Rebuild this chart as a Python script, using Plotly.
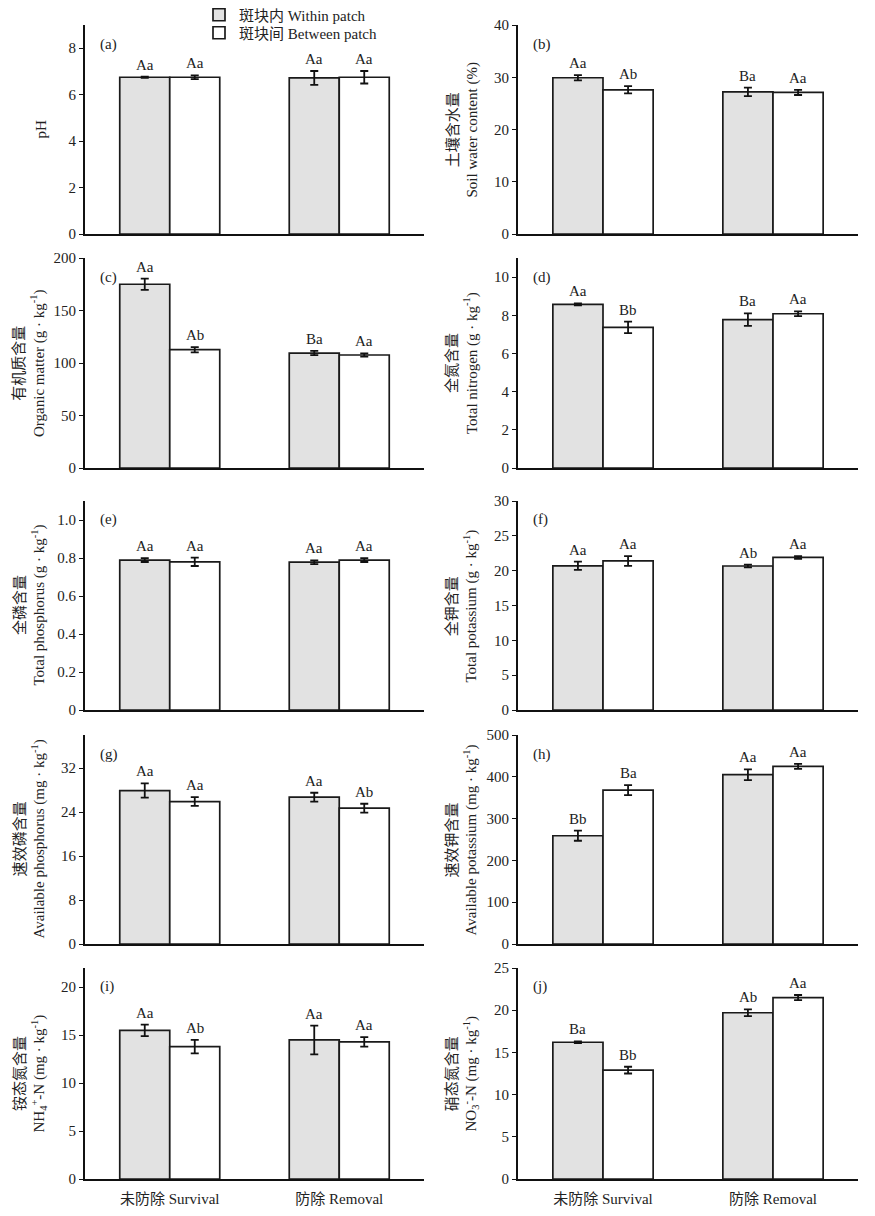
import plotly.graph_objects as go

# page is rendered with an 8px body margin; layout coordinates below are page pixels
PAGE_W, PAGE_H = 875, 1216
OFF = 8
FW, FH = PAGE_W - OFF, PAGE_H - OFF


def fx(px):
    return (px - OFF) / FW


def fy(py):
    return 1 - (py - OFF) / FH


categories = ["未防除 Survival", "防除 Removal"]
series_names = ["斑块内 Within patch", "斑块间 Between patch"]

# (a) pH
ph_within = [6.75, 6.72]
ph_within_err = [0.03, 0.30]
ph_between = [6.75, 6.75]
ph_between_err = [0.08, 0.27]
ph_letters_within = ["Aa", "Aa"]
ph_letters_between = ["Aa", "Aa"]

# (b) Soil water content (%)
swc_within = [29.9, 27.2]
swc_within_err = [0.5, 0.8]
swc_between = [27.6, 27.1]
swc_between_err = [0.7, 0.5]
swc_letters_within = ["Aa", "Ba"]
swc_letters_between = ["Ab", "Aa"]

# (c) Organic matter (g/kg)
om_within = [175.0, 109.5]
om_within_err = [5.3, 2.0]
om_between = [112.7, 107.6]
om_between_err = [2.5, 1.5]
om_letters_within = ["Aa", "Ba"]
om_letters_between = ["Ab", "Aa"]

# (d) Total nitrogen (g/kg)
tn_within = [8.57, 7.77]
tn_within_err = [0.05, 0.33]
tn_between = [7.37, 8.08]
tn_between_err = [0.30, 0.12]
tn_letters_within = ["Aa", "Ba"]
tn_letters_between = ["Bb", "Aa"]

# (e) Total phosphorus (g/kg)
tp_within = [0.789, 0.778]
tp_within_err = [0.010, 0.010]
tp_between = [0.780, 0.789]
tp_between_err = [0.022, 0.010]
tp_letters_within = ["Aa", "Aa"]
tp_letters_between = ["Aa", "Aa"]

# (f) Total potassium (g/kg)
tk_within = [20.7, 20.67]
tk_within_err = [0.6, 0.2]
tk_between = [21.4, 21.9]
tk_between_err = [0.7, 0.2]
tk_letters_within = ["Aa", "Ab"]
tk_letters_between = ["Aa", "Aa"]

# (g) Available phosphorus (mg/kg)
ap_within = [27.9, 26.7]
ap_within_err = [1.3, 0.8]
ap_between = [25.9, 24.7]
ap_between_err = [0.8, 0.8]
ap_letters_within = ["Aa", "Aa"]
ap_letters_between = ["Aa", "Ab"]

# (h) Available potassium (mg/kg)
ak_within = [259, 405]
ak_within_err = [12, 13]
ak_between = [368, 425]
ak_between_err = [12, 6]
ak_letters_within = ["Bb", "Aa"]
ak_letters_between = ["Ba", "Aa"]

# (i) NH4+-N (mg/kg)
nh4_within = [15.5, 14.5]
nh4_within_err = [0.6, 1.5]
nh4_between = [13.8, 14.3]
nh4_between_err = [0.7, 0.5]
nh4_letters_within = ["Aa", "Aa"]
nh4_letters_between = ["Ab", "Aa"]

# (j) NO3--N (mg/kg)
no3_within = [16.2, 19.7]
no3_within_err = [0.1, 0.4]
no3_between = [12.9, 21.5]
no3_between_err = [0.4, 0.3]
no3_letters_within = ["Ba", "Ab"]
no3_letters_between = ["Bb", "Aa"]

panels = [
    dict(tag="(a)", title="pH",
         w=ph_within, we=ph_within_err, b=ph_between, be=ph_between_err,
         lw=ph_letters_within, lb=ph_letters_between,
         rng=[0, 9], tv=[0, 2, 4, 6, 8], tt=["0", "2", "4", "6", "8"]),
    dict(tag="(b)", title="土壤含水量<br>Soil water content (%)",
         w=swc_within, we=swc_within_err, b=swc_between, be=swc_between_err,
         lw=swc_letters_within, lb=swc_letters_between,
         rng=[0, 40], tv=[0, 10, 20, 30, 40], tt=["0", "10", "20", "30", "40"]),
    dict(tag="(c)", title="有机质含量<br>Organic matter (g · kg<sup>-1</sup>)",
         w=om_within, we=om_within_err, b=om_between, be=om_between_err,
         lw=om_letters_within, lb=om_letters_between,
         rng=[0, 200], tv=[0, 50, 100, 150, 200], tt=["0", "50", "100", "150", "200"]),
    dict(tag="(d)", title="全氮含量<br>Total nitrogen (g · kg<sup>-1</sup>)",
         w=tn_within, we=tn_within_err, b=tn_between, be=tn_between_err,
         lw=tn_letters_within, lb=tn_letters_between,
         rng=[0, 11], tv=[0, 2, 4, 6, 8, 10], tt=["0", "2", "4", "6", "8", "10"]),
    dict(tag="(e)", title="全磷含量<br>Total phosphorus (g · kg<sup>-1</sup>)",
         w=tp_within, we=tp_within_err, b=tp_between, be=tp_between_err,
         lw=tp_letters_within, lb=tp_letters_between,
         rng=[0, 1.1], tv=[0, 0.2, 0.4, 0.6, 0.8, 1.0], tt=["0", "0.2", "0.4", "0.6", "0.8", "1.0"]),
    dict(tag="(f)", title="全钾含量<br>Total potassium (g · kg<sup>-1</sup>)",
         w=tk_within, we=tk_within_err, b=tk_between, be=tk_between_err,
         lw=tk_letters_within, lb=tk_letters_between,
         rng=[0, 30], tv=[0, 5, 10, 15, 20, 25, 30], tt=["0", "5", "10", "15", "20", "25", "30"]),
    dict(tag="(g)", title="速效磷含量<br>Available phosphorus (mg · kg<sup>-1</sup>)",
         w=ap_within, we=ap_within_err, b=ap_between, be=ap_between_err,
         lw=ap_letters_within, lb=ap_letters_between,
         rng=[0, 38], tv=[0, 8, 16, 24, 32], tt=["0", "8", "16", "24", "32"]),
    dict(tag="(h)", title="速效钾含量<br>Available potassium (mg · kg<sup>-1</sup>)",
         w=ak_within, we=ak_within_err, b=ak_between, be=ak_between_err,
         lw=ak_letters_within, lb=ak_letters_between,
         rng=[0, 500], tv=[0, 100, 200, 300, 400, 500], tt=["0", "100", "200", "300", "400", "500"]),
    dict(tag="(i)", title="铵态氮含量<br>NH<sub>4</sub><sup>+</sup>-N (mg · kg<sup>-1</sup>)",
         w=nh4_within, we=nh4_within_err, b=nh4_between, be=nh4_between_err,
         lw=nh4_letters_within, lb=nh4_letters_between,
         rng=[0, 22], tv=[0, 5, 10, 15, 20], tt=["0", "5", "10", "15", "20"]),
    dict(tag="(j)", title="硝态氮含量<br>NO<sub>3</sub><sup>-</sup>-N (mg · kg<sup>-1</sup>)",
         w=no3_within, we=no3_within_err, b=no3_between, be=no3_between_err,
         lw=no3_letters_within, lb=no3_letters_between,
         rng=[0, 25], tv=[0, 5, 10, 15, 20, 25], tt=["0", "5", "10", "15", "20", "25"]),
]

# page-pixel layout (left, right) and (top, bottom)
col_px = [(85, 424), (518, 858)]
row_px = [(25, 234), (258, 468), (501, 710), (735, 944), (968, 1179)]
title_x_px = [30, 462]

FONT = "Liberation Serif, 'Times New Roman', 'Noto Sans CJK SC', serif"
TXT = "#222222"
GRAY = "#e2e2e2"
EDGE = "#1a1a1a"

xpos = [0, 1]
bw = 0.295

fig = go.Figure()
annotations = []

for i, p in enumerate(panels):
    r, c = divmod(i, 2)
    n = i + 1
    xa = "x" if n == 1 else f"x{n}"
    ya = "y" if n == 1 else f"y{n}"
    x0, x1 = col_px[c]
    t0, t1 = row_px[r]
    dom_x = [fx(x0), fx(x1)]
    dom_y = [fy(t1), fy(t0)]

    fig.add_trace(go.Bar(
        x=xpos, y=p["w"], width=bw, offset=-bw, xaxis=xa, yaxis=ya,
        name=series_names[0], showlegend=(i == 0), legend="legend",
        marker=dict(color=GRAY, line=dict(color=EDGE, width=1.7)),
        error_y=dict(type="data", array=p["we"], visible=True,
                     color="#111111", thickness=1.8, width=4),
    ))
    fig.add_trace(go.Bar(
        x=xpos, y=p["b"], width=bw, offset=0, xaxis=xa, yaxis=ya,
        name=series_names[1], showlegend=(i == 0), legend="legend2",
        marker=dict(color="#ffffff", line=dict(color=EDGE, width=1.7)),
        error_y=dict(type="data", array=p["be"], visible=True,
                     color="#111111", thickness=1.8, width=4),
    ))

    bottom = (r == 4)
    fig.update_layout(**{
        ("xaxis" if n == 1 else f"xaxis{n}"): dict(
            domain=dom_x, anchor=ya, range=[-0.5, 1.5],
            tickvals=xpos, ticktext=categories, showticklabels=bottom,
            ticks="", showline=True, linecolor="#111111", linewidth=2,
            showgrid=False, zeroline=False, fixedrange=True, automargin=False,
            ticklabelstandoff=5,
            tickfont=dict(family=FONT, size=15, color=TXT),
        ),
        ("yaxis" if n == 1 else f"yaxis{n}"): dict(
            domain=dom_y, anchor=xa, range=p["rng"],
            tickvals=p["tv"], ticktext=p["tt"],
            ticks="outside", ticklen=4, tickwidth=1, tickcolor="#111111",
            showline=True, linecolor="#111111", linewidth=2,
            showgrid=False, zeroline=False, fixedrange=True, automargin=False,
            tickfont=dict(family=FONT, size=15, color=TXT),
        ),
    })

    # panel tag
    annotations.append(dict(
        text=p["tag"], xref="paper", yref="paper",
        x=fx(x0 + 13), y=fy(t0 + 19), xanchor="left", yanchor="middle",
        showarrow=False, font=dict(family=FONT, size=15, color=TXT),
    ))
    # y title
    tx = 40 if i == 0 else title_x_px[c]
    annotations.append(dict(
        text=p["title"], xref="paper", yref="paper",
        x=fx(tx), y=fy((t0 + t1) / 2), xanchor="center", yanchor="middle",
        textangle=-90, showarrow=False,
        font=dict(family=FONT, size=15, color=TXT),
    ))
    # significance letters
    for k in range(2):
        annotations.append(dict(
            text=p["lw"][k], xref=xa, yref=ya,
            x=xpos[k] - bw / 2, y=p["w"][k] + p["we"][k],
            xanchor="center", yanchor="bottom", yshift=2,
            showarrow=False, font=dict(family=FONT, size=15, color=TXT),
        ))
        annotations.append(dict(
            text=p["lb"][k], xref=xa, yref=ya,
            x=xpos[k] + bw / 2, y=p["b"][k] + p["be"][k],
            xanchor="center", yanchor="bottom", yshift=2,
            showarrow=False, font=dict(family=FONT, size=15, color=TXT),
        ))

legend_style = dict(
    xanchor="left", yanchor="middle", orientation="v",
    bgcolor="rgba(0,0,0,0)", font=dict(family=FONT, size=15, color=TXT),
    itemwidth=30,
)

fig.update_layout(
    width=FW, height=FH,
    margin=dict(l=0, r=0, t=0, b=0, autoexpand=False),
    paper_bgcolor="white", plot_bgcolor="white",
    barmode="overlay",
    annotations=annotations,
    legend=dict(x=fx(199), y=fy(15), **legend_style),
    legend2=dict(x=fx(199), y=fy(33), **legend_style),
    font=dict(family=FONT, size=15, color=TXT),
)

fig.write_html("out.html")
